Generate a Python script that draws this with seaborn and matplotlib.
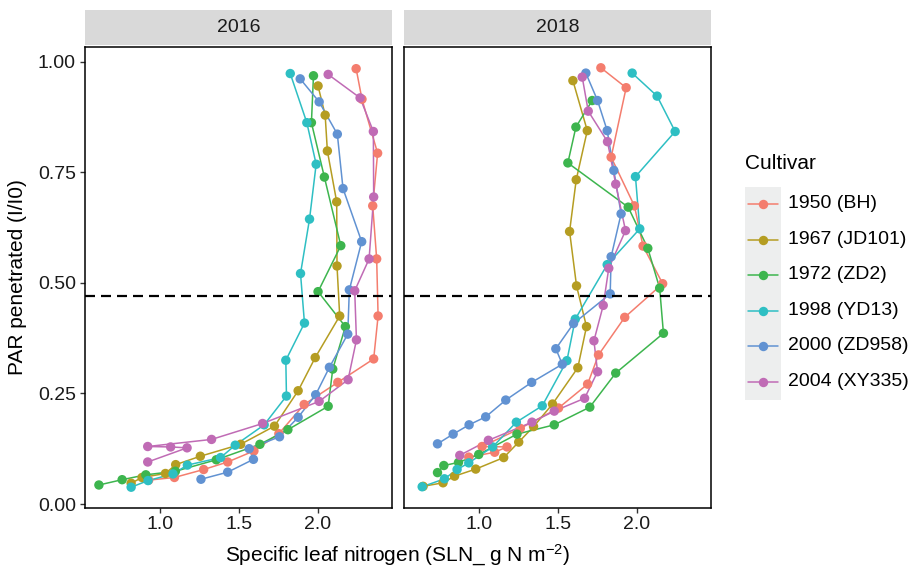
import numpy as np
import pandas as pd
import matplotlib
matplotlib.use("Agg")
import matplotlib.pyplot as plt
import seaborn as sns

# ---------------- data ----------------
years = ["2016", "2018"]
cultivars = ["1950 (BH)", "1967 (JD101)", "1972 (ZD2)", "1998 (YD13)", "2000 (ZD958)", "2004 (XY335)"]
colors = ["#F47D6E", "#B59D22", "#3DB54E", "#2EBFC3", "#6192D2", "#C06BB5"]

# 2016
sln_2016_bh = [2.243, 2.28, 2.379, 2.348, 2.373, 2.382, 2.354, 2.127, 1.914, 1.754, 1.596, 1.430, 1.278, 1.093, 0.93]
par_2016_bh = [0.984, 0.915, 0.793, 0.674, 0.554, 0.425, 0.328, 0.275, 0.225, 0.159, 0.120, 0.095, 0.078, 0.060, 0.054]
sln_2016_jd101 = [2.002, 2.047, 2.061, 2.120, 2.122, 2.139, 1.984, 1.876, 1.726, 1.512, 1.257, 1.101, 1.036, 0.888, 0.819]
par_2016_jd101 = [0.945, 0.879, 0.798, 0.683, 0.538, 0.425, 0.331, 0.256, 0.176, 0.135, 0.108, 0.089, 0.069, 0.060, 0.047]
sln_2016_zd2 = [1.973, 1.960, 2.042, 2.146, 2.002, 2.175, 2.095, 2.066, 1.811, 1.634, 1.358, 1.099, 0.912, 0.762, 0.615]
par_2016_zd2 = [0.968, 0.862, 0.739, 0.584, 0.480, 0.401, 0.305, 0.221, 0.168, 0.135, 0.100, 0.074, 0.066, 0.055, 0.043]
sln_2016_yd13 = [1.826, 1.931, 1.990, 1.948, 1.891, 1.916, 1.798, 1.802, 1.661, 1.478, 1.385, 1.175, 1.084, 0.926, 0.819]
par_2016_yd13 = [0.973, 0.862, 0.768, 0.644, 0.521, 0.409, 0.325, 0.244, 0.179, 0.133, 0.105, 0.088, 0.068, 0.053, 0.038]
sln_2016_zd958 = [1.889, 2.009, 2.124, 2.160, 2.278, 2.200, 2.190, 2.074, 1.987, 1.876, 1.758, 1.566, 1.593, 1.430, 1.261]
par_2016_zd958 = [0.961, 0.909, 0.836, 0.713, 0.593, 0.484, 0.384, 0.309, 0.247, 0.196, 0.152, 0.125, 0.101, 0.072, 0.056]
sln_2016_xy335 = [2.066, 2.268, 2.352, 2.354, 2.325, 2.234, 2.245, 2.192, 2.009, 1.651, 1.328, 1.173, 1.069, 0.924, 0.924]
par_2016_xy335 = [0.971, 0.918, 0.842, 0.694, 0.554, 0.482, 0.371, 0.281, 0.232, 0.182, 0.146, 0.127, 0.129, 0.130, 0.095]

# 2018
sln_2018_bh = [1.773, 1.933, 1.838, 1.985, 2.040, 2.164, 1.924, 1.758, 1.689, 1.505, 1.263, 1.179, 1.101, 1.021, 0.937]
par_2018_bh = [0.986, 0.941, 0.784, 0.674, 0.583, 0.498, 0.422, 0.337, 0.271, 0.217, 0.171, 0.129, 0.117, 0.130, 0.106]
sln_2018_jd101 = [1.596, 1.687, 1.617, 1.575, 1.619, 1.682, 1.627, 1.467, 1.347, 1.253, 1.158, 0.981, 0.847, 0.774, 0.648]
par_2018_jd101 = [0.957, 0.844, 0.733, 0.616, 0.493, 0.401, 0.308, 0.226, 0.175, 0.140, 0.105, 0.079, 0.063, 0.048, 0.040]
sln_2018_zd2 = [1.718, 1.615, 1.564, 1.946, 2.070, 2.145, 2.169, 1.867, 1.703, 1.478, 1.242, 1.000, 0.872, 0.779, 0.739]
par_2018_zd2 = [0.912, 0.852, 0.771, 0.671, 0.578, 0.488, 0.386, 0.296, 0.219, 0.179, 0.158, 0.112, 0.094, 0.087, 0.071]
sln_2018_yd13 = [1.971, 2.129, 2.243, 1.992, 2.019, 1.813, 1.611, 1.558, 1.402, 1.238, 1.088, 0.937, 0.863, 0.783, 0.642]
par_2018_yd13 = [0.974, 0.922, 0.842, 0.740, 0.622, 0.541, 0.418, 0.324, 0.222, 0.185, 0.129, 0.093, 0.078, 0.057, 0.039]
sln_2018_zd958 = [1.678, 1.752, 1.813, 1.855, 1.901, 1.838, 1.832, 1.600, 1.488, 1.529, 1.335, 1.171, 1.044, 0.939, 0.838, 0.739]
par_2018_zd958 = [0.974, 0.912, 0.844, 0.754, 0.656, 0.559, 0.475, 0.408, 0.351, 0.316, 0.275, 0.235, 0.197, 0.179, 0.158, 0.136]
sln_2018_xy335 = [1.655, 1.693, 1.815, 1.867, 1.929, 1.823, 1.788, 1.729, 1.752, 1.670, 1.478, 1.337, 1.061, 0.880]
par_2018_xy335 = [0.965, 0.888, 0.819, 0.723, 0.618, 0.533, 0.449, 0.369, 0.299, 0.239, 0.210, 0.185, 0.144, 0.110]

threshold = 0.47
x_ticks = [1.0, 1.5, 2.0]
y_ticks = [0.00, 0.25, 0.50, 0.75, 1.00]

series = {
    ("2016", cultivars[0]): (sln_2016_bh, par_2016_bh),
    ("2016", cultivars[1]): (sln_2016_jd101, par_2016_jd101),
    ("2016", cultivars[2]): (sln_2016_zd2, par_2016_zd2),
    ("2016", cultivars[3]): (sln_2016_yd13, par_2016_yd13),
    ("2016", cultivars[4]): (sln_2016_zd958, par_2016_zd958),
    ("2016", cultivars[5]): (sln_2016_xy335, par_2016_xy335),
    ("2018", cultivars[0]): (sln_2018_bh, par_2018_bh),
    ("2018", cultivars[1]): (sln_2018_jd101, par_2018_jd101),
    ("2018", cultivars[2]): (sln_2018_zd2, par_2018_zd2),
    ("2018", cultivars[3]): (sln_2018_yd13, par_2018_yd13),
    ("2018", cultivars[4]): (sln_2018_zd958, par_2018_zd958),
    ("2018", cultivars[5]): (sln_2018_xy335, par_2018_xy335),
}
rows = []
for (yr, cv), (xs, ys) in series.items():
    for xv, yv in zip(xs, ys):
        rows.append({"year": yr, "Cultivar": cv, "sln": xv, "par": yv})
df = pd.DataFrame(rows).sort_values(["year", "Cultivar", "par"]).reset_index(drop=True)

# ---------------- style ----------------
sns.set_theme(style="white")
plt.rcParams["font.family"] = ["Liberation Sans", "DejaVu Sans"]
plt.rcParams["mathtext.fontset"] = "custom"
plt.rcParams["mathtext.rm"] = "Liberation Sans"
plt.rcParams["mathtext.it"] = "Liberation Sans:italic"
plt.rcParams["axes.unicode_minus"] = True

W, H = 917, 571
fig = plt.figure(figsize=(W / 100, H / 100), dpi=100)
fig.patch.set_facecolor("white")

def fr(l, t, r, b):
    return [l / W, 1 - b / H, (r - l) / W, (b - t) / H]

panel_px = [(85, 47, 392, 508), (404, 47, 711, 508)]
palette = dict(zip(cultivars, colors))
xlim = (0.527, 2.470)
ylim = (-0.009, 1.033)

for i, yr in enumerate(years):
    l, t, r, b = panel_px[i]
    ax = fig.add_axes(fr(l, t, r, b))
    sub = df[df["year"] == yr]
    sns.lineplot(data=sub, x="sln", y="par", hue="Cultivar", hue_order=cultivars,
                 palette=palette, sort=False, estimator=None, linewidth=1.1,
                 legend=False, ax=ax, zorder=2)
    sns.scatterplot(data=sub, x="sln", y="par", hue="Cultivar", hue_order=cultivars,
                    palette=palette, s=46, linewidth=0, legend=False, ax=ax, zorder=3)
    ax.axhline(threshold, color="black", linewidth=1.6, dashes=(4.5, 2.7), zorder=4)
    ax.set_xlim(*xlim)
    ax.set_ylim(*ylim)
    ax.set_xticks(x_ticks)
    ax.set_xticklabels([f"{v:.1f}" for v in x_ticks])
    ax.set_yticks(y_ticks)
    if i == 0:
        ax.set_yticklabels([f"{v:.2f}" for v in y_ticks])
        ax.tick_params(axis="y", length=3.5, width=1.0, color="#333333", pad=3,
                       labelsize=14, labelcolor="#1a1a1a", left=True)
    else:
        ax.set_yticklabels([])
        ax.tick_params(axis="y", left=False, length=0)
    ax.tick_params(axis="x", length=3.5, width=1.0, color="#333333", pad=2,
                   labelsize=14, labelcolor="#1a1a1a", bottom=True)
    ax.set_xlabel("")
    ax.set_ylabel("")
    ax.grid(False)
    for sp in ax.spines.values():
        sp.set_color("black")
        sp.set_linewidth(1.1)
        sp.set_visible(True)
    ax.set_facecolor("white")

    # strip
    sax = fig.add_axes(fr(l, 10, r, 45))
    sax.set_facecolor("#D9D9D9")
    sax.set_xticks([])
    sax.set_yticks([])
    for sp in sax.spines.values():
        sp.set_visible(False)
    sax.text(0.5, 0.5, yr, ha="center", va="center", fontsize=14, color="#1a1a1a",
             transform=sax.transAxes)

# axis titles
fig.text(398 / W, 1 - 555 / H, "Specific leaf nitrogen (SLN_ g N m$^{-2}$)",
         ha="center", va="center", fontsize=15, color="black")
fig.text(18 / W, 1 - 277 / H, "PAR penetrated (I/I0)", ha="center", va="center",
         rotation=90, fontsize=15, color="black")

# legend
fig.text(745 / W, 1 - 164 / H, "Cultivar", ha="left", va="center", fontsize=15, color="black")
lax = fig.add_axes(fr(745, 187, 781, 400))
lax.set_facecolor("#EDEEEE")
lax.set_xlim(0, 1)
lax.set_ylim(400, 187)
for sp in lax.spines.values():
    sp.set_visible(False)
lax.set_xticks([])
lax.set_yticks([])
leg_y = [204, 239.5, 275, 310.5, 346, 381.5]
for cv, c, yy in zip(cultivars, colors, leg_y):
    lax.plot([0.08, 0.92], [yy, yy], color=c, linewidth=1.1)
    lax.scatter([0.5], [yy], color=c, s=46, linewidth=0, zorder=3)
    fig.text(788 / W, 1 - yy / H, cv, ha="left", va="center", fontsize=14, color="black")

fig.savefig("out.png", dpi=100)
